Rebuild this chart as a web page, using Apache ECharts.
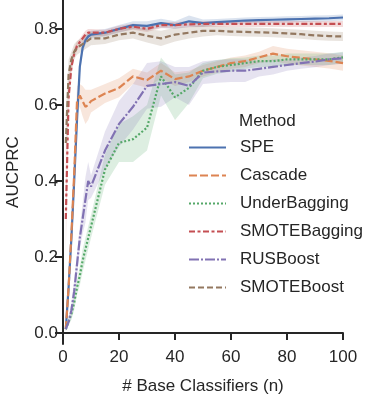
<!DOCTYPE html>
<html>
<head>
<meta charset="utf-8">
<script src="https://cdn.jsdelivr.net/npm/echarts@6/dist/echarts.min.js"></script>
<style>
html, body { margin: 0; padding: 0; background: #fff; }
#auc_chart { width: 382px; height: 395px; }
</style>
</head>
<body>
<div id="auc_chart"></div>
<script>
// number of base classifiers (x)
var nClassifiers = [1, 2, 3, 4, 5, 6, 7, 8, 9, 10, 15, 20, 25, 30, 35, 40, 45, 50, 55, 60, 65, 70, 75, 80, 85, 90, 95, 100];
var methodNames = ['SPE', 'Cascade', 'UnderBagging', 'SMOTEBagging', 'RUSBoost', 'SMOTEBoost'];
var xTicks = [0, 20, 40, 60, 80, 100];
var yTicks = [0, 0.2, 0.4, 0.6, 0.8];

// mean AUCPRC
var speMean = [0.01, 0.12, 0.25, 0.40, 0.56, 0.70, 0.75, 0.77, 0.78, 0.785, 0.79, 0.80, 0.81, 0.808, 0.815, 0.81, 0.82, 0.815, 0.818, 0.82, 0.822, 0.823, 0.824, 0.825, 0.826, 0.827, 0.828, 0.83];
var cascadeMean = [0.01, 0.12, 0.26, 0.42, 0.61, 0.625, 0.61, 0.595, 0.60, 0.61, 0.63, 0.645, 0.675, 0.665, 0.69, 0.668, 0.675, 0.69, 0.70, 0.71, 0.715, 0.725, 0.735, 0.728, 0.724, 0.72, 0.716, 0.71];
var underBaggingMean = [0.01, 0.03, 0.05, 0.08, 0.12, 0.15, 0.19, 0.22, 0.25, 0.28, 0.43, 0.50, 0.51, 0.54, 0.675, 0.62, 0.645, 0.69, 0.70, 0.705, 0.71, 0.715, 0.715, 0.72, 0.72, 0.72, 0.72, 0.725];
var smoteBaggingMean = [0.30, 0.62, 0.70, 0.735, 0.755, 0.765, 0.775, 0.785, 0.79, 0.79, 0.79, 0.80, 0.806, 0.80, 0.81, 0.81, 0.812, 0.813, 0.813, 0.813, 0.813, 0.813, 0.813, 0.813, 0.813, 0.813, 0.813, 0.813];
var rusBoostMean = [0.01, 0.03, 0.06, 0.11, 0.18, 0.25, 0.30, 0.35, 0.40, 0.385, 0.48, 0.55, 0.595, 0.65, 0.655, 0.66, 0.65, 0.685, 0.688, 0.69, 0.69, 0.695, 0.70, 0.705, 0.71, 0.714, 0.72, 0.723];
var smoteBoostMean = [0.50, 0.68, 0.72, 0.74, 0.75, 0.755, 0.76, 0.765, 0.77, 0.775, 0.775, 0.785, 0.79, 0.782, 0.775, 0.785, 0.79, 0.795, 0.795, 0.793, 0.792, 0.791, 0.79, 0.788, 0.786, 0.783, 0.781, 0.78];

// half width of the confidence band
var speCi = [0.005, 0.02, 0.03, 0.03, 0.03, 0.02, 0.015, 0.012, 0.01, 0.01, 0.01, 0.01, 0.01, 0.012, 0.012, 0.01, 0.015, 0.01, 0.008, 0.008, 0.008, 0.008, 0.008, 0.008, 0.008, 0.008, 0.008, 0.008];
var cascadeCi = [0.005, 0.02, 0.04, 0.05, 0.04, 0.03, 0.04, 0.045, 0.04, 0.03, 0.025, 0.025, 0.02, 0.02, 0.02, 0.018, 0.015, 0.015, 0.015, 0.015, 0.015, 0.015, 0.02, 0.02, 0.02, 0.02, 0.02, 0.02];
var underBaggingCi = [0.005, 0.01, 0.015, 0.02, 0.02, 0.025, 0.03, 0.03, 0.03, 0.03, 0.04, 0.05, 0.06, 0.06, 0.05, 0.06, 0.04, 0.02, 0.018, 0.018, 0.015, 0.015, 0.015, 0.015, 0.015, 0.015, 0.015, 0.015];
var smoteBaggingCi = [0.09, 0.05, 0.02, 0.015, 0.012, 0.01, 0.01, 0.01, 0.01, 0.01, 0.008, 0.008, 0.008, 0.008, 0.008, 0.008, 0.008, 0.008, 0.008, 0.008, 0.008, 0.008, 0.008, 0.008, 0.008, 0.008, 0.008, 0.008];
var rusBoostCi = [0.005, 0.01, 0.02, 0.03, 0.03, 0.03, 0.04, 0.06, 0.05, 0.03, 0.05, 0.06, 0.06, 0.06, 0.06, 0.04, 0.05, 0.03, 0.03, 0.03, 0.03, 0.02, 0.02, 0.015, 0.015, 0.015, 0.015, 0.015];
var smoteBoostCi = [0.08, 0.04, 0.02, 0.02, 0.018, 0.018, 0.018, 0.018, 0.018, 0.018, 0.015, 0.015, 0.015, 0.018, 0.02, 0.018, 0.015, 0.015, 0.012, 0.012, 0.012, 0.012, 0.012, 0.012, 0.012, 0.012, 0.012, 0.012];

var means = [speMean, cascadeMean, underBaggingMean, smoteBaggingMean, rusBoostMean, smoteBoostMean];
var cis = [speCi, cascadeCi, underBaggingCi, smoteBaggingCi, rusBoostCi, smoteBoostCi];
var colors = ['#4c72b0', '#dd8452', '#55a868', '#c44e52', '#8172b3', '#937860'];
var dashes = ['solid', [8, 3], [2, 2], [6, 2.5, 3, 2.5], [10, 2, 2, 2], [6, 3]];

var font = 'Liberation Sans, Arial, sans-serif';
var ink = '#262626';

// band polygon: upper edge forward, lower edge back, mapped through the axes
function bandRenderer(m) {
    return function (params, api) {
        var pts = [];
        for (var i = 0; i < nClassifiers.length; i++) {
            pts.push(api.coord([nClassifiers[i], means[m][i] + cis[m][i]]));
        }
        for (var j = nClassifiers.length - 1; j >= 0; j--) {
            pts.push(api.coord([nClassifiers[j], means[m][j] - cis[m][j]]));
        }
        return {
            type: 'polygon',
            shape: { points: pts },
            style: { fill: colors[m], opacity: 0.2 },
            silent: true
        };
    };
}

var series = [];
for (var m = 0; m < methodNames.length; m++) {
    var line = [];
    for (var i = 0; i < nClassifiers.length; i++) {
        line.push([nClassifiers[i], means[m][i]]);
    }
    series.push({
        type: 'custom', data: [[nClassifiers[0], means[m][0]]], renderItem: bandRenderer(m),
        silent: true, clip: true
    });
    series.push({
        name: methodNames[m], type: 'line', data: line, symbol: 'none',
        lineStyle: { color: colors[m], width: 2.2, type: dashes[m] },
        itemStyle: { color: colors[m] }, emphasis: { disabled: true }
    });
}

var auc_chart = echarts.init(document.getElementById('auc_chart'));
var option = {
    animation: false,
    textStyle: { fontFamily: font },
    title: {
        text: 'Method', left: 239, top: 113, padding: 0,
        textStyle: { fontFamily: font, fontSize: 17, fontWeight: 'normal', color: ink }
    },
    legend: {
        data: methodNames, orient: 'vertical', left: 188, top: 139, padding: 0,
        itemWidth: 37, itemHeight: 14, itemGap: 11,
        itemStyle: { opacity: 0 },
        textStyle: { fontFamily: font, fontSize: 17, color: ink, lineHeight: 14, padding: [0, 0, 0, 9] }
    },
    grid: { left: 63, right: 39, top: 0, bottom: 51, containLabel: false, outerBoundsMode: 'none' },
    xAxis: {
        type: 'value', min: 0, max: 100, interval: 20,
        name: '# Base Classifiers (n)', nameLocation: 'middle', nameGap: 34,
        nameTextStyle: { fontFamily: font, fontSize: 17, color: ink },
        axisLine: { lineStyle: { color: ink, width: 2 } },
        axisTick: { length: 7, lineStyle: { color: ink, width: 2 } },
        axisLabel: { fontFamily: font, fontSize: 17, color: ink, margin: 5 },
        splitLine: { show: false }
    },
    yAxis: {
        type: 'value', min: -0.029, max: 0.876,
        name: 'AUCPRC', nameLocation: 'middle', nameGap: 41,
        nameTextStyle: { fontFamily: font, fontSize: 17, color: ink },
        axisLine: { show: true, lineStyle: { color: ink, width: 2 } },
        axisTick: { show: true, length: 8, customValues: yTicks, lineStyle: { color: ink, width: 2 } },
        axisLabel: {
            fontFamily: font, fontSize: 17, color: ink, margin: 5, customValues: yTicks,
            formatter: function (v) { return v.toFixed(1); }
        },
        splitLine: { show: false }
    },
    series: series
};
auc_chart.setOption(option);
</script>
</body>
</html>
